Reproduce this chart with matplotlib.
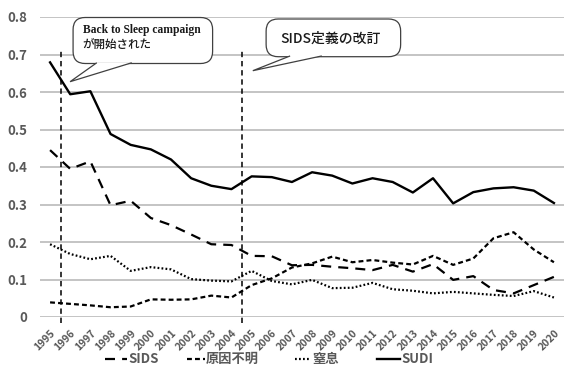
import matplotlib
matplotlib.use("Agg")
import matplotlib.pyplot as plt
from matplotlib.patches import FancyBboxPatch, Polygon
from matplotlib.lines import Line2D

years = [str(y) for y in range(1995, 2021)]
sids = [0.445, 0.395, 0.415, 0.298, 0.310, 0.264, 0.245, 0.220, 0.194, 0.192,
        0.163, 0.162, 0.138, 0.139, 0.134, 0.130, 0.125, 0.139, 0.121, 0.141,
        0.099, 0.109, 0.072, 0.063, 0.085, 0.107]
unknown = [0.039, 0.035, 0.031, 0.026, 0.028, 0.047, 0.046, 0.047, 0.057, 0.052,
           0.085, 0.103, 0.132, 0.143, 0.161, 0.146, 0.152, 0.145, 0.140, 0.163,
           0.139, 0.156, 0.210, 0.226, 0.180, 0.146]
suffocation = [0.194, 0.168, 0.154, 0.163, 0.123, 0.133, 0.127, 0.101, 0.097, 0.095,
               0.123, 0.096, 0.087, 0.099, 0.077, 0.078, 0.091, 0.074, 0.070, 0.063,
               0.067, 0.063, 0.059, 0.056, 0.069, 0.052]
sudi = [0.679, 0.594, 0.602, 0.488, 0.459, 0.447, 0.420, 0.370, 0.350, 0.341,
        0.375, 0.373, 0.360, 0.386, 0.377, 0.356, 0.370, 0.360, 0.332, 0.370,
        0.303, 0.333, 0.343, 0.346, 0.337, 0.304]
series_names = ["SIDS", "原因不明", "窒息", "SUDI"]
yticks = [0, 0.1, 0.2, 0.3, 0.4, 0.5, 0.6, 0.7, 0.8]
ytick_labels = ["0", "0.1", "0.2", "0.3", "0.4", "0.5", "0.6", "0.7", "0.8"]

JP = ["Noto Sans CJK JP", "DejaVu Sans"]
GRAY = "#595959"

W, H = 564, 367
fig = plt.figure(figsize=(W / 100, H / 100), dpi=100)
ax = fig.add_axes([40 / W, 50 / H, 524 / W, 300 / H])

x = list(range(len(years)))
styles = [
    dict(linestyle=(0, (4.5, 3.2)), lw=1.6),
    dict(linestyle=(0, (2.2, 1.4)), lw=1.6),
    dict(linestyle=(0, (0.8, 1.0)), lw=1.6),
    dict(linestyle="-", lw=1.7),
]
for vals, st, name in zip([sids, unknown, suffocation, sudi], styles, series_names):
    ax.plot(x, vals, color="black", label=name, **st)

ax.set_xlim(-0.5, len(years) - 0.5)
ax.set_ylim(0, 0.8)
ax.set_yticks(yticks)
ax.set_yticklabels(ytick_labels, fontsize=9.5, fontweight="bold", color=GRAY,
                   family=JP)
ax.set_xticks(x)
ax.set_xticklabels(years, rotation=45, ha="right", va="top", rotation_mode="anchor",
                   fontsize=7.5, fontweight="bold", color=GRAY, family=JP)
ax.tick_params(axis="both", length=0)
ax.tick_params(axis="y", pad=9)
ax.tick_params(axis="x", pad=8)
ax.yaxis.grid(True, color="#bfbfbf", lw=1.3)
ax.set_axisbelow(True)
for s in ax.spines.values():
    s.set_visible(False)

# event markers
for xv in (0.55, 9.53):
    ax.plot([xv, xv], [-0.016, 0.71], color="black", lw=1.1,
            linestyle=(0, (3.5, 2.5)), clip_on=False)


def px(xp, yp):
    return ((xp - 50) / 20.15, (317 - yp) / 375)


def callout(box, tip, base):
    x0, y0 = px(box[0], box[3])
    x1, y1 = px(box[2], box[1])
    patch = FancyBboxPatch((x0, y0), x1 - x0, y1 - y0,
                           boxstyle="round,pad=0,rounding_size=0.6",
                           mutation_aspect=0.8 / 300 * 20.15,
                           facecolor="white", edgecolor="#404040", lw=0.9,
                           clip_on=False, zorder=5)
    ax.add_patch(patch)
    tx, ty = px(*tip)
    bx0, by = px(base[0], box[3])
    bx1, _ = px(base[1], box[3])
    tail = Polygon([(bx0, by + 0.002), (tx, ty), (bx1, by + 0.002)], closed=False,
                   facecolor="white", edgecolor="#404040", lw=0.9,
                   clip_on=False, zorder=6)
    ax.add_patch(tail)


callout((73, 17.5, 212.5, 63.5), (70, 81.7), (96.7, 131.7))
callout((266, 19, 400.5, 56.7), (252.7, 70.7), (290, 321.7))

tx, ty = px(82.5, 33.5)
ax.text(tx, ty, "Back to Sleep campaign", family="Liberation Serif",
        fontweight="bold", fontsize=8.3, color="#1a1a1a", zorder=7,
        va="baseline", ha="left")
tx, ty = px(82.5, 47.5)
ax.text(tx, ty, "が開始された", family=JP, fontsize=8.3, color="#1a1a1a",
        zorder=7, va="baseline", ha="left", fontweight="medium")
tx, ty = px(280, 39)
ax.text(tx, ty, "SIDS定義の改訂", family=JP, fontsize=10, color="#1a1a1a",
        zorder=7, va="center", ha="left", fontweight="medium")

# legend row beneath the axis labels
leg_y = 1 - 359 / H
leg_items = [(105, 127), (187, 205), (295, 311), (377, 400)]
for (a, b), st, name in zip(leg_items, styles, series_names):
    fig.add_artist(Line2D([a / W, b / W], [leg_y, leg_y], color="black",
                          transform=fig.transFigure, **st))
    fig.text((b + 1) / W, leg_y, name, family=JP, fontsize=9.5, fontweight="bold",
             color=GRAY, va="center", ha="left")

fig.savefig("out.png", dpi=100)
